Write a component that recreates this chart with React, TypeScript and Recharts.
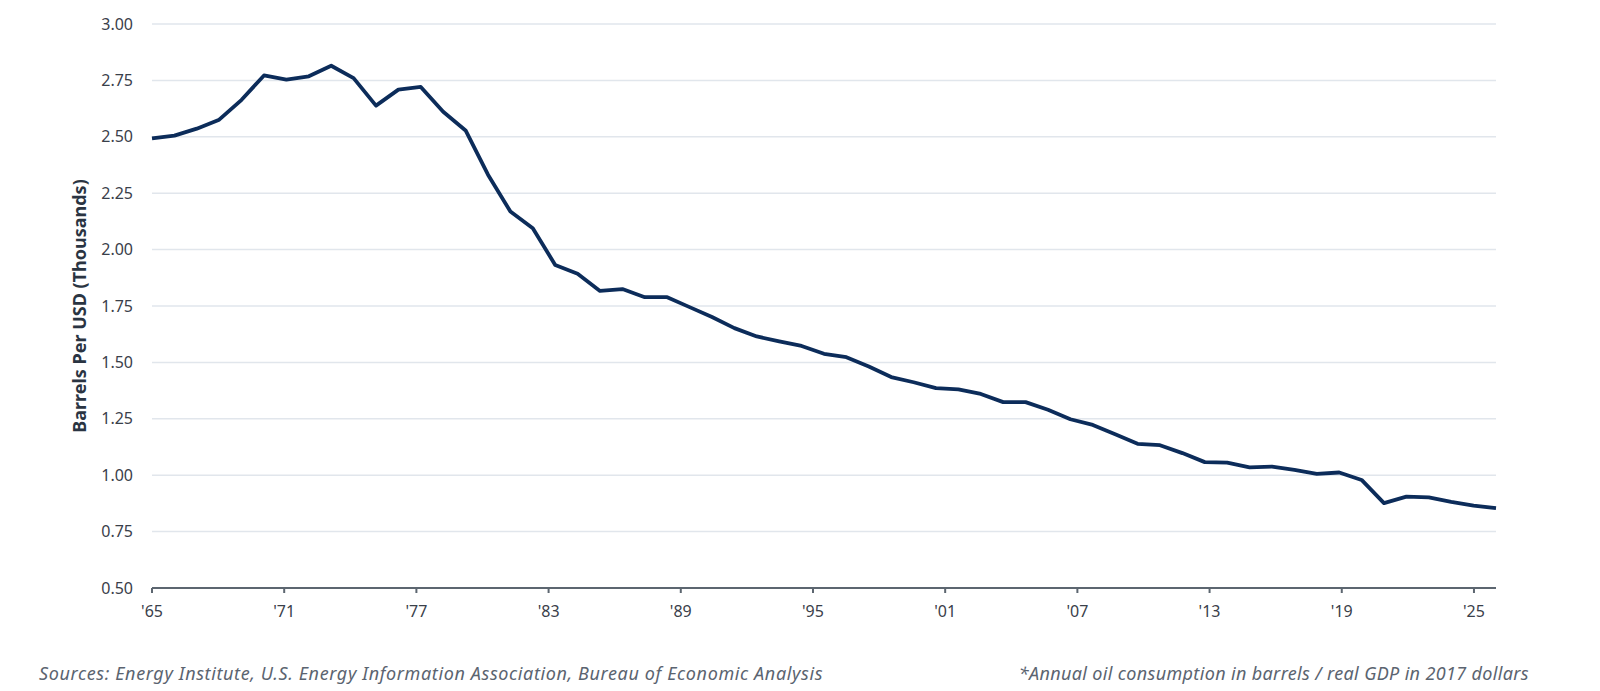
import { LineChart, Line, XAxis, YAxis, CartesianGrid, Label } from 'recharts'

// annual oil intensity, 1965 - 2025
const years = [
    1965, 1966, 1967, 1968, 1969, 1970, 1971, 1972, 1973, 1974,
    1975, 1976, 1977, 1978, 1979, 1980, 1981, 1982, 1983, 1984,
    1985, 1986, 1987, 1988, 1989, 1990, 1991, 1992, 1993, 1994,
    1995, 1996, 1997, 1998, 1999, 2000, 2001, 2002, 2003, 2004,
    2005, 2006, 2007, 2008, 2009, 2010, 2011, 2012, 2013, 2014,
    2015, 2016, 2017, 2018, 2019, 2020, 2021, 2022, 2023, 2024,
    2025,
]

const barrelsPerUsd = [
    2.493, 2.505, 2.536, 2.576, 2.664, 2.772, 2.753, 2.768, 2.815, 2.76,
    2.638, 2.709, 2.721, 2.611, 2.528, 2.332, 2.169, 2.095, 1.932, 1.893,
    1.817, 1.825, 1.789, 1.789, 1.745, 1.701, 1.652, 1.615, 1.593, 1.573,
    1.538, 1.523, 1.482, 1.435, 1.412, 1.386, 1.38, 1.36, 1.324, 1.324,
    1.29, 1.248, 1.223, 1.182, 1.139, 1.133, 1.098, 1.058, 1.056, 1.035,
    1.038, 1.024, 1.006, 1.012, 0.979, 0.876, 0.905, 0.902, 0.882, 0.865,
    0.854,
]

const xTicks = [1965, 1971, 1977, 1983, 1989, 1995, 2001, 2007, 2013, 2019, 2025]
const yTicks = [0.5, 0.75, 1.0, 1.25, 1.5, 1.75, 2.0, 2.25, 2.5, 2.75, 3.0]

const chartData = years.map((year, i) => ({ year, value: barrelsPerUsd[i] }))

const FONT = '"Noto Sans", "Open Sans", sans-serif'

const footStyle = {
    position: 'absolute' as const,
    top: 661,
    fontSize: 18,
    lineHeight: '24px',
    fontStyle: 'italic',
    color: '#5b6470',
    whiteSpace: 'nowrap' as const,
}

export default function App() {
    return (
        <div
            style={{
                position: 'absolute',
                top: 0,
                left: 0,
                width: 1600,
                height: 691,
                background: '#ffffff',
                fontFamily: FONT,
            }}
        >
            <LineChart
                width={1600}
                height={640}
                data={chartData}
                margin={{ top: 24, right: 104, bottom: 12, left: 0 }}
            >
                <CartesianGrid
                    vertical={false}
                    stroke="#e1e6ec"
                    strokeWidth={1.5}
                    xAxisId="ticks"
                />
                {/* the ticks axis spans one more year than the series */}
                <XAxis
                    xAxisId="ticks"
                    dataKey="year"
                    type="number"
                    domain={[1965, 2026]}
                    ticks={xTicks}
                    interval={0}
                    height={40}
                    tickFormatter={(v) => `'${String(v).slice(2)}`}
                    stroke="#5c6670"
                    strokeWidth={2}
                    tickSize={5}
                    tickMargin={13}
                    tick={{ fill: '#3a404a', fontSize: 16, fontFamily: FONT }}
                />
                <XAxis
                    xAxisId="data"
                    dataKey="year"
                    type="number"
                    domain={[1965, 2025]}
                    height={0}
                    hide
                />
                <YAxis
                    type="number"
                    domain={[0.5, 3]}
                    ticks={yTicks}
                    interval={0}
                    width={152}
                    axisLine={false}
                    tickLine={false}
                    tickMargin={13}
                    tickFormatter={(v) => v.toFixed(2)}
                    tick={{ fill: '#3a404a', fontSize: 16, fontFamily: FONT }}
                >
                    <Label
                        value="Barrels Per USD (Thousands)"
                        angle={-90}
                        position="center"
                        dx={4}
                        style={{
                            fill: '#2a3442',
                            fontSize: 18,
                            fontWeight: 700,
                            fontFamily: FONT,
                        }}
                    />
                </YAxis>
                <Line
                    xAxisId="data"
                    type="linear"
                    dataKey="value"
                    stroke="#0c2c5a"
                    strokeWidth={3.8}
                    strokeLinejoin="round"
                    dot={false}
                    isAnimationActive={false}
                />
            </LineChart>
            <div style={{ ...footStyle, left: 39, letterSpacing: '0.62px' }}>
                Sources: Energy Institute, U.S. Energy Information Association, Bureau of Economic Analysis
            </div>
            <div style={{ ...footStyle, right: 71, letterSpacing: '0.35px' }}>
                *Annual oil consumption in barrels / real GDP in 2017 dollars
            </div>
        </div>
    )
}
